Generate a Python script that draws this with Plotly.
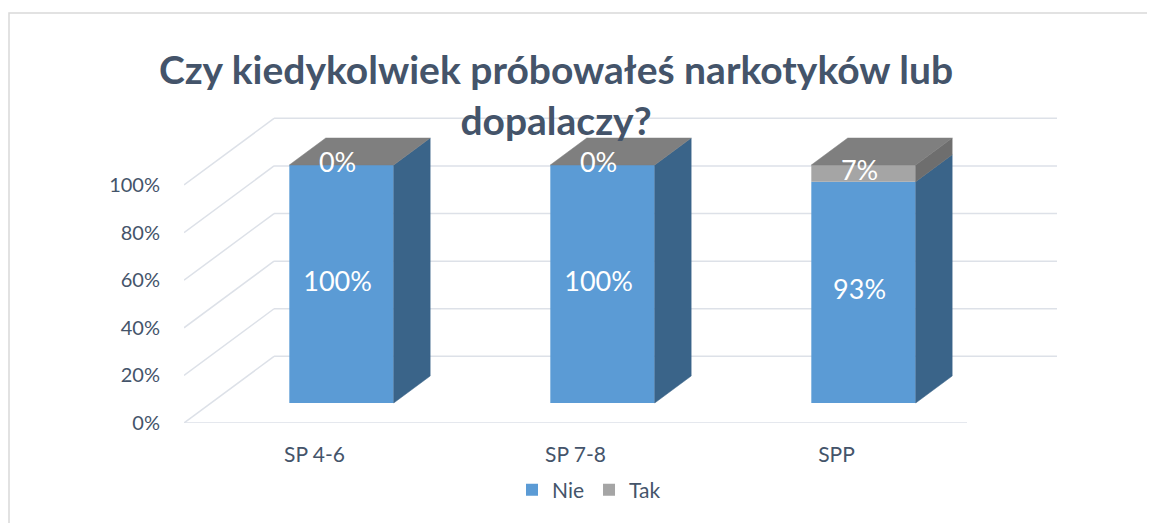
import plotly.graph_objects as go

# ---------------- data ----------------
categories = ["SP 4-6", "SP 7-8", "SPP"]
series_names = ["Nie", "Tak"]
nie_values = [100, 100, 93]
tak_values = [0, 0, 7]
y_tick_values = [0, 20, 40, 60, 80, 100]
y_tick_labels = ["0%", "20%", "40%", "60%", "80%", "100%"]
title_text = "Czy kiedykolwiek próbowałeś narkotyków lub<br>dopalaczy?"

# ---------------- styling / geometry ----------------
FRONT_COL = {"Nie": "#5B9BD5", "Tak": "#A5A5A5"}
SIDE_COL = {"Nie": "#3A6489", "Tak": "#6E6E6E"}
TOP_COL = "#7F7F7F"
GRID_COL = "#DDE1E8"
TEXT_COL = "#44546A"
FONT = "Lato"

DX = 0.345      # horizontal shift of full depth (category units)
DY = 28.0       # vertical shift of full depth (percent units)
Z_FRONT, Z_BACK = 0.30, 0.705
BAR_W = 0.40
X_MIN, X_MAX = -0.5, 2.5

PAGE_OFF = 8                      # browser body margin
W, H = 1155 - PAGE_OFF, 523 - PAGE_OFF
PLOT_LEFT, PLOT_TOP = 184, 117    # screen px
PLOT_W, PLOT_H = 873, 306
ML = PLOT_LEFT - PAGE_OFF
MT = PLOT_TOP - PAGE_OFF
MR = W - ML - PLOT_W
MB = H - MT - PLOT_H
PX_PER_X = 261.0
PX_PER_Y = 2.38
x_range = [X_MIN, X_MIN + PLOT_W / PX_PER_X]
y_range = [0, PLOT_H / PX_PER_Y]


def proj(x, y, z):
    return x + z * DX, y + z * DY


def px_to_paper_x(px):
    return (px - PLOT_LEFT) / PLOT_W


def px_to_paper_y(py):
    return (PLOT_TOP + PLOT_H - py) / PLOT_H


fig = go.Figure()

# grid (walls) as below-layer shapes
shapes = []
for v in y_tick_values:
    bx0, by0 = proj(X_MIN, v, 1)
    bx1, by1 = proj(X_MAX, v, 1)
    shapes.append(dict(type="line", x0=bx0, y0=by0, x1=bx1, y1=by1, xref="x", yref="y",
                       line=dict(color=GRID_COL, width=1.5), layer="below"))
    fx, fy = proj(X_MIN, v, 0)
    shapes.append(dict(type="line", x0=fx, y0=fy, x1=bx0, y1=by0, xref="x", yref="y",
                       line=dict(color=GRID_COL, width=1.5), layer="below"))
f0x, f0y = proj(X_MIN, 0, 0)
f1x, f1y = proj(X_MAX, 0, 0)
shapes.append(dict(type="line", x0=f0x, y0=f0y, x1=f1x, y1=f1y, xref="x", yref="y",
                   line=dict(color=GRID_COL, width=1.5), layer="below"))

# chart border
shapes.append(dict(type="rect", xref="paper", yref="paper",
                   x0=px_to_paper_x(9), x1=px_to_paper_x(1175),
                   y0=px_to_paper_y(545), y1=px_to_paper_y(13),
                   line=dict(color="#D9D9D9", width=1.5), fillcolor="rgba(0,0,0,0)",
                   layer="below"))

series_values = {"Nie": nie_values, "Tak": tak_values}
xs = list(range(len(categories)))
z_off = Z_FRONT * DY

# front faces (real bars)
cum = [0.0] * len(categories)
segments = {}
for s in series_names:
    vals = series_values[s]
    bases = [z_off + c for c in cum]
    fig.add_trace(go.Bar(
        x=[i + Z_FRONT * DX for i in xs], y=vals, base=bases, width=BAR_W,
        name=s, marker=dict(color=FRONT_COL[s], line=dict(width=0)),
        hoverinfo="skip",
    ))
    segments[s] = [(cum[i], cum[i] + vals[i]) for i in xs]
    cum = [cum[i] + vals[i] for i in xs]

# side faces
for s in series_names:
    for i in xs:
        y0, y1 = segments[s][i]
        if y1 <= y0:
            continue
        xr = i + BAR_W / 2
        pts = [proj(xr, y0, Z_FRONT), proj(xr, y0, Z_BACK),
               proj(xr, y1, Z_BACK), proj(xr, y1, Z_FRONT), proj(xr, y0, Z_FRONT)]
        fig.add_trace(go.Scatter(
            x=[p[0] for p in pts], y=[p[1] for p in pts], mode="lines",
            fill="toself", fillcolor=SIDE_COL[s], line=dict(width=0.5, color=SIDE_COL[s]),
            showlegend=False, hoverinfo="skip"))

# top faces
for i in xs:
    yt = cum[i]
    xl, xr = i - BAR_W / 2, i + BAR_W / 2
    pts = [proj(xl, yt, Z_FRONT), proj(xr, yt, Z_FRONT), proj(xr, yt, Z_BACK),
           proj(xl, yt, Z_BACK), proj(xl, yt, Z_FRONT)]
    fig.add_trace(go.Scatter(
        x=[p[0] for p in pts], y=[p[1] for p in pts], mode="lines",
        fill="toself", fillcolor=TOP_COL, line=dict(width=0.5, color=TOP_COL),
        showlegend=False, hoverinfo="skip"))

# data labels
for s in series_names:
    vals = series_values[s]
    lx = [i + Z_FRONT * DX - 0.015 for i in xs]
    ly = [z_off + (segments[s][i][0] + segments[s][i][1]) / 2 for i in xs]
    fig.add_trace(go.Scatter(
        x=lx, y=ly, mode="text", text=[f"{v}%" for v in vals],
        textfont=dict(family=FONT, size=27, color="white"),
        showlegend=False, hoverinfo="skip"))

fig.update_layout(
    width=W, height=H, autosize=False,
    margin=dict(l=ML, r=MR, t=MT, b=MB),
    paper_bgcolor="white", plot_bgcolor="rgba(0,0,0,0)",
    barmode="overlay",
    shapes=shapes,
    title=dict(text=title_text, x=(556 - PAGE_OFF) / W, xanchor="center", xref="container",
               y=1 - (84 - PAGE_OFF) / H, yanchor="top",
               font=dict(family=FONT, size=39, color=TEXT_COL, weight="bold")),
    legend=dict(orientation="h", x=px_to_paper_x(589), xanchor="center",
                y=px_to_paper_y(490), yanchor="middle",
                font=dict(family=FONT, size=21, color=TEXT_COL),
                itemwidth=30, traceorder="normal"),
    xaxis=dict(range=x_range, tickmode="array", tickvals=xs, ticktext=categories,
               showgrid=False, zeroline=False, showline=False,
               ticks="outside", ticklen=13, tickcolor="rgba(0,0,0,0)",
               tickfont=dict(family=FONT, size=21, color=TEXT_COL), fixedrange=True),
    yaxis=dict(range=y_range, tickmode="array", tickvals=y_tick_values,
               ticktext=y_tick_labels, showgrid=False, zeroline=False, showline=False,
               ticks="outside", ticklen=19, tickcolor="rgba(0,0,0,0)",
               tickfont=dict(family=FONT, size=20, color=TEXT_COL), fixedrange=True),
)

fig.write_html("out.html")
